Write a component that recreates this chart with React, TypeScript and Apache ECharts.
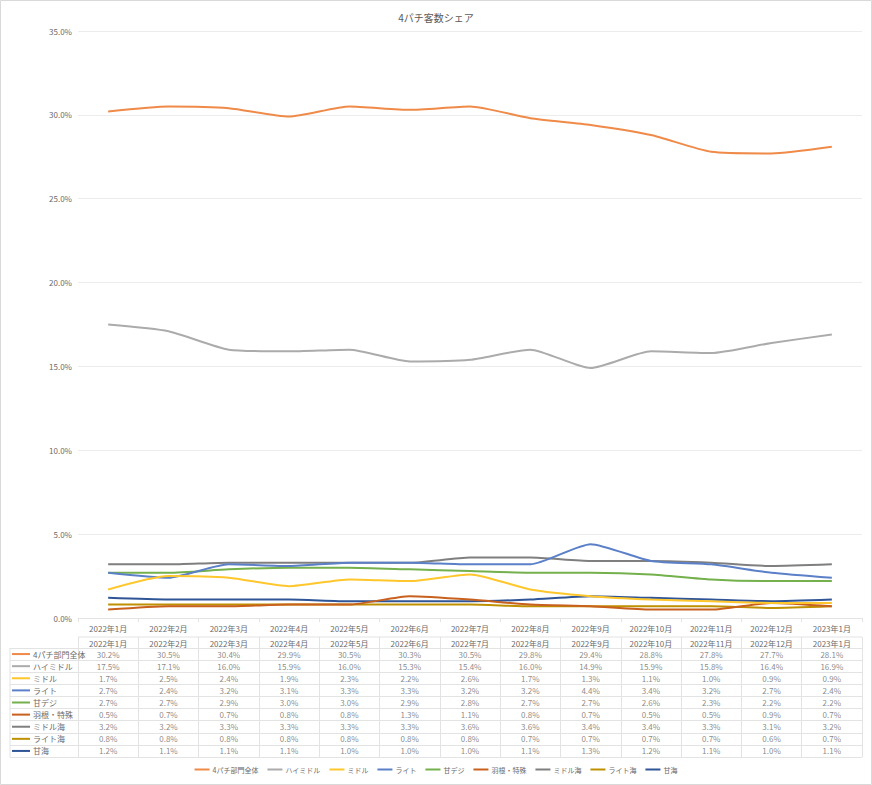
import { useEffect, useRef } from 'react';
import * as echarts from 'echarts';

const months = [
  '2022年1月', '2022年2月', '2022年3月', '2022年4月', '2022年5月', '2022年6月', '2022年7月',
  '2022年8月', '2022年9月', '2022年10月', '2022年11月', '2022年12月', '2023年1月'
];

const seriesNames = ['4パチ部門全体', 'ハイミドル', 'ミドル', 'ライト', '甘デジ', '羽根・特殊', 'ミドル海', 'ライト海', '甘海'];
const seriesColors = ['#EF8A48', '#ABABAB', '#FFC72C', '#5B80C8', '#74B04C', '#C8601E', '#7F7F7F', '#BF9000', '#2F5597'];

const zentai = [30.2, 30.5, 30.4, 29.9, 30.5, 30.3, 30.5, 29.8, 29.4, 28.8, 27.8, 27.7, 28.1];
const highMiddle = [17.5, 17.1, 16.0, 15.9, 16.0, 15.3, 15.4, 16.0, 14.9, 15.9, 15.8, 16.4, 16.9];
const middle = [1.7, 2.5, 2.4, 1.9, 2.3, 2.2, 2.6, 1.7, 1.3, 1.1, 1.0, 0.9, 0.9];
const light = [2.7, 2.4, 3.2, 3.1, 3.3, 3.3, 3.2, 3.2, 4.4, 3.4, 3.2, 2.7, 2.4];
const amadeji = [2.7, 2.7, 2.9, 3.0, 3.0, 2.9, 2.8, 2.7, 2.7, 2.6, 2.3, 2.2, 2.2];
const hane = [0.5, 0.7, 0.7, 0.8, 0.8, 1.3, 1.1, 0.8, 0.7, 0.5, 0.5, 0.9, 0.7];
const middleUmi = [3.2, 3.2, 3.3, 3.3, 3.3, 3.3, 3.6, 3.6, 3.4, 3.4, 3.3, 3.1, 3.2];
const lightUmi = [0.8, 0.8, 0.8, 0.8, 0.8, 0.8, 0.8, 0.7, 0.7, 0.7, 0.7, 0.6, 0.7];
const amaUmi = [1.2, 1.1, 1.1, 1.1, 1.0, 1.0, 1.0, 1.1, 1.3, 1.2, 1.1, 1.0, 1.1];

const allValues = [zentai, highMiddle, middle, light, amadeji, hane, middleUmi, lightUmi, amaUmi];

const TEXT = '#6b6b6b';
const LINE = '#e3e3e3';
const FONT = '"Noto Sans CJK JP", "Noto Sans", sans-serif';

export default function App() {
  const chartRef = useRef<HTMLDivElement>(null);

  useEffect(() => {
    document.body.style.margin = '0';
    if (!chartRef.current) return;
    const chart = echarts.init(chartRef.current, null, { renderer: 'svg' });

    const rich: Record<string, any> = {
      t: { fontSize: 8, color: TEXT, padding: [0, 0, 0, 3], fontFamily: FONT }
    };
    seriesColors.forEach((c, i) => {
      rich['k' + i] = { width: 18, height: 2, backgroundColor: c };
    });

    const cells: number[][] = [];
    allValues.forEach((vals, r) => vals.forEach((v, i) => cells.push([i, r, v])));

    chart.setOption({
      animation: false,
      backgroundColor: '#fff',
      textStyle: { fontFamily: FONT },
      title: {
        text: '4パチ客数シェア',
        left: 'center',
        top: 7,
        textStyle: { fontSize: 10, fontWeight: 'normal', color: '#595959' }
      },
      legend: {
        data: seriesNames,
        bottom: 7,
        left: 'center',
        icon: 'rect',
        itemWidth: 15,
        itemHeight: 2,
        itemGap: 9,
        textStyle: { fontSize: 7, color: TEXT, padding: [0, 0, 0, -2] }
      },
      graphic: [
        {
          type: 'rect',
          shape: { x: 0.5, y: 0.5, width: 871, height: 784 },
          style: { fill: 'none', stroke: '#d9d9d9', lineWidth: 1 },
          silent: true
        },
        {
          type: 'line',
          shape: { x1: 78, y1: 637, x2: 862, y2: 637 },
          style: { stroke: LINE, lineWidth: 1 },
          silent: true
        },
        {
          type: 'line',
          shape: { x1: 10, y1: 648, x2: 10, y2: 757 },
          style: { stroke: LINE, lineWidth: 1 },
          silent: true
        }
      ],
      grid: [
        { left: 78, right: 10, top: 31, height: 587 },
        { left: 78, right: 10, top: 648, height: 109 }
      ],
      xAxis: [
        {
          type: 'category',
          gridIndex: 0,
          data: months,
          axisLine: { lineStyle: { color: LINE } },
          axisTick: { show: true, length: 4, lineStyle: { color: LINE } },
          axisLabel: { fontSize: 8, color: TEXT, margin: 6, interval: 0 }
        },
        {
          type: 'category',
          gridIndex: 1,
          position: 'top',
          data: months,
          axisLine: { lineStyle: { color: LINE } },
          axisTick: { show: true, length: 11, lineStyle: { color: LINE } },
          axisLabel: { fontSize: 8, color: TEXT, margin: 1, interval: 0 },
          splitLine: { show: true, interval: 0, lineStyle: { color: LINE } }
        }
      ],
      yAxis: [
        {
          type: 'value',
          gridIndex: 0,
          min: 0,
          max: 35,
          interval: 5,
          axisLabel: { fontSize: 8, color: TEXT, margin: 6, formatter: (v: number) => v.toFixed(1) + '%' },
          splitLine: { lineStyle: { color: '#ececec' } }
        },
        {
          type: 'category',
          gridIndex: 1,
          inverse: true,
          data: seriesNames,
          axisLine: { show: true, lineStyle: { color: LINE } },
          axisTick: { show: true, length: 68, lineStyle: { color: LINE } },
          axisLabel: {
            interval: 0,
            align: 'left',
            margin: 66,
            formatter: (name: string, idx: number) => `{k${idx}|}{t|${name}}`,
            rich
          },
          splitLine: { show: true, interval: 0, lineStyle: { color: LINE } }
        }
      ],
      series: [
        ...seriesNames.map((name, i) => ({
          name,
          type: 'line',
          xAxisIndex: 0,
          yAxisIndex: 0,
          data: allValues[i],
          smooth: 0.2,
          showSymbol: false,
          color: seriesColors[i],
          lineStyle: { width: 2, color: seriesColors[i] },
          z: 10 - i
        })),
        {
          name: 'table',
          type: 'scatter',
          xAxisIndex: 1,
          yAxisIndex: 1,
          symbolSize: 0,
          data: cells,
          silent: true,
          label: {
            show: true,
            position: 'inside',
            fontSize: 8,
            color: TEXT,
            formatter: (p: any) => p.value[2].toFixed(1) + '%'
          }
        }
      ]
    });

    return () => chart.dispose();
  }, []);

  return <div ref={chartRef} style={{ width: 872, height: 785 }} />;
}
